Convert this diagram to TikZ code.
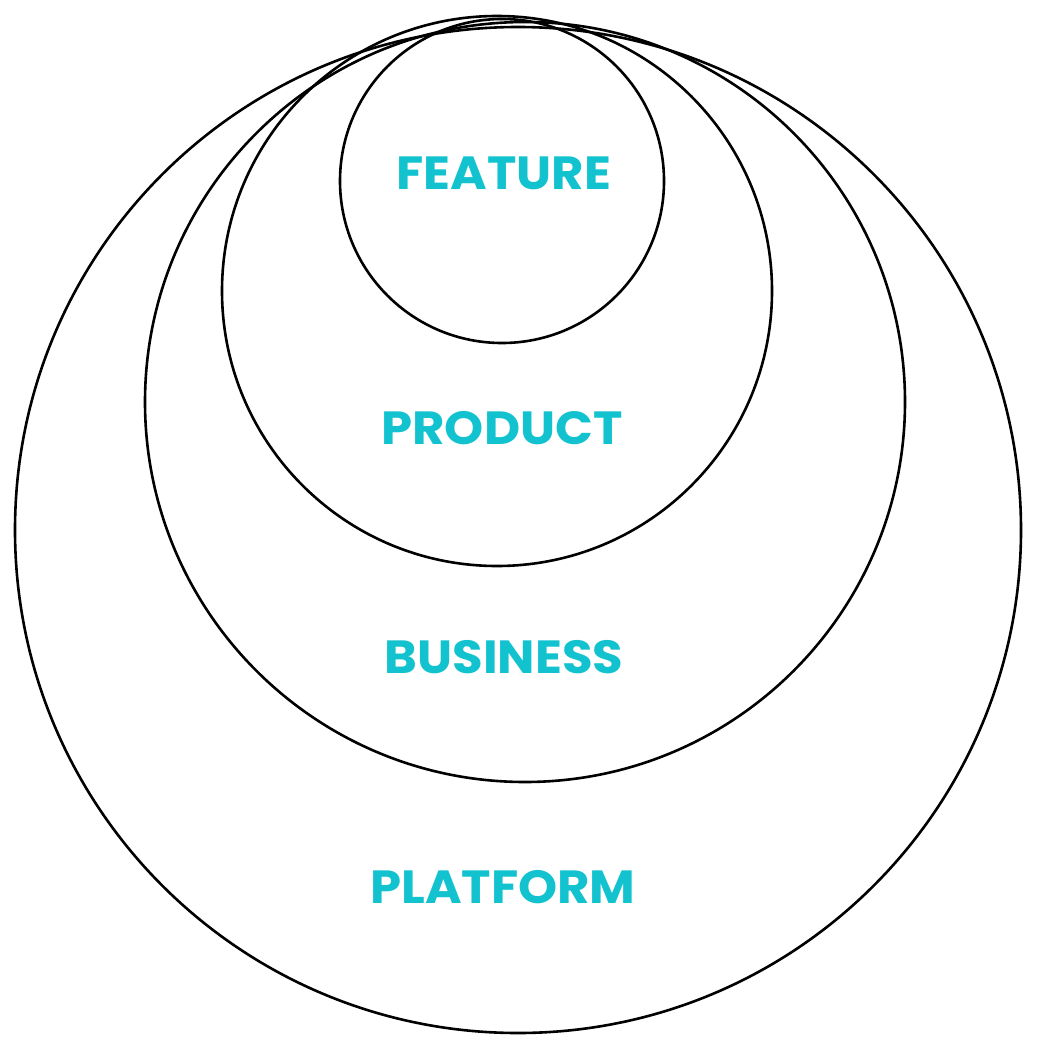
\documentclass[tikz,border=0pt]{standalone}
\usepackage{fontspec}
\setmainfont{Poppins}
\newfontfamily\lblfont[FakeStretch=1.07]{Poppins}
\definecolor{teal}{HTML}{12C3CF}
\begin{document}
\begin{tikzpicture}[x=1pt,y=-1pt,
  ring/.style={draw=black,line width=2.6pt,circle,inner sep=0pt},
  lbl/.style={text=teal,font=\lblfont\fontsize{46.5}{46.5}\selectfont\bfseries,inner sep=0pt,anchor=center}]
\useasboundingbox (0,0) rectangle (1036,1046);
\node[ring,minimum size=1006pt] (platform) at (518,530) {};
\node[ring,minimum size=760pt] (business) at (525,402) {};
\node[ring,minimum size=550pt] (product) at (497,291) {};
\node[ring,minimum size=324pt] (feature) at (502,181) {};
\node[lbl] (tfeature) at (504,173) {FEATURE};
\node[lbl] (tproduct) at (502,428) {PRODUCT};
\node[lbl] (tbusiness) at (504,657) {BUSINESS};
\node[lbl] (tplatform) at (503,887) {PLATFORM};
\end{tikzpicture}
\end{document}
